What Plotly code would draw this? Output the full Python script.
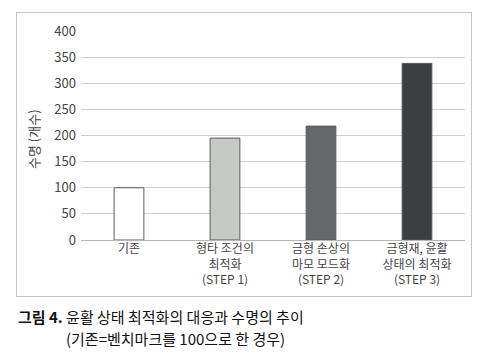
import plotly.graph_objects as go

categories = ["기존", "형타 조건의<br>최적화<br>(STEP 1)", "금형 손상의<br>마모 모드화<br>(STEP 2)", "금형재, 윤활<br>상태의 최적화<br>(STEP 3)"]
values = [100, 195, 218, 338]
colors = ["#ffffff", "#c6c9c6", "#63676a", "#3b3f41"]
y_ticks = [0, 50, 100, 150, 200, 250, 300, 350, 400]
y_title = "수명 (개수)"
caption_bold = "그림 4."
caption_1 = " 윤활 상태 최적화의 대응과 수명의 추이"
caption_2 = "(기존=벤치마크를 100으로 한 경우)"

W, H = 485, 363
# outer frame (paper area) in pixels
FL, FR, FT, FB = 17, 471, 13, 296
fw, fh = FR - FL, FB - FT
# inner plot area in pixels
PL, PR, PT, PB = 81, 465, 31, 240

def px(x):
    return (x - FL) / fw

def py(y):
    return (FB - y) / fh

font = "Noto Sans CJK KR"

fig = go.Figure()
fig.add_trace(go.Bar(
    x=list(range(len(categories))), y=values,
    marker=dict(color=colors, line=dict(color="#5a5a5a", width=1)),
    width=0.31, hoverinfo="skip", xaxis="x", yaxis="y",
))
fig.add_trace(go.Scatter(x=[0.5], y=[0.5], xaxis="x2", yaxis="y2", mode="markers",
                         marker=dict(opacity=0), hoverinfo="skip", showlegend=False))

fig.update_layout(
    width=W, height=H,
    margin=dict(l=FL, r=W - FR, t=FT, b=H - FB, autoexpand=False),
    paper_bgcolor="white", plot_bgcolor="rgba(0,0,0,0)",
    showlegend=False,
    font=dict(family=font, size=13, color="#444"),
    xaxis=dict(
        domain=[px(PL), px(PR)], anchor="y",
        tickmode="array", tickvals=list(range(len(categories))), ticktext=categories,
        range=[-0.5, len(categories) - 0.5], showgrid=False, showline=False,
        ticks="", tickfont=dict(size=12, color="#444"), automargin=False,
    ),
    yaxis=dict(
        domain=[py(PB), py(PT)], anchor="x",
        range=[0, 400], tickvals=y_ticks, showgrid=True, gridcolor="#cfcfcf",
        gridwidth=1, zeroline=True, zerolinecolor="#b5b5b5", zerolinewidth=1,
        showline=False, ticks="", ticklabelstandoff=4, automargin=False,
        tickfont=dict(size=13, color="#444"),
    ),
    xaxis2=dict(domain=[0, 1], anchor="y2", range=[0, 1], showline=True, mirror=True,
                linecolor="#c4c4c4", linewidth=1.2, showgrid=False, zeroline=False,
                showticklabels=False, ticks="", automargin=False, fixedrange=True),
    yaxis2=dict(domain=[0, 1], anchor="x2", range=[0, 1], showline=True, mirror=True,
                linecolor="#c4c4c4", linewidth=1.2, showgrid=False, zeroline=False,
                showticklabels=False, ticks="", automargin=False, fixedrange=True),
    annotations=[
        dict(text=y_title, textangle=-90, xref="paper", yref="paper",
             x=px(33), y=py(139), showarrow=False, xanchor="center", yanchor="middle",
             font=dict(size=13, color="#444")),
        dict(text="<b>" + caption_bold + "</b>" + caption_1, xref="paper", yref="paper",
             x=px(16), y=py(316), showarrow=False, xanchor="left", yanchor="middle",
             font=dict(size=15, color="#111")),
        dict(text=caption_2, xref="paper", yref="paper",
             x=px(64), y=py(338), showarrow=False, xanchor="left", yanchor="middle",
             font=dict(size=15, color="#111")),
    ],
)

fig.write_html("out.html", config={"displayModeBar": False},
               post_script="document.body.style.margin='0';document.body.style.overflow='hidden';")
